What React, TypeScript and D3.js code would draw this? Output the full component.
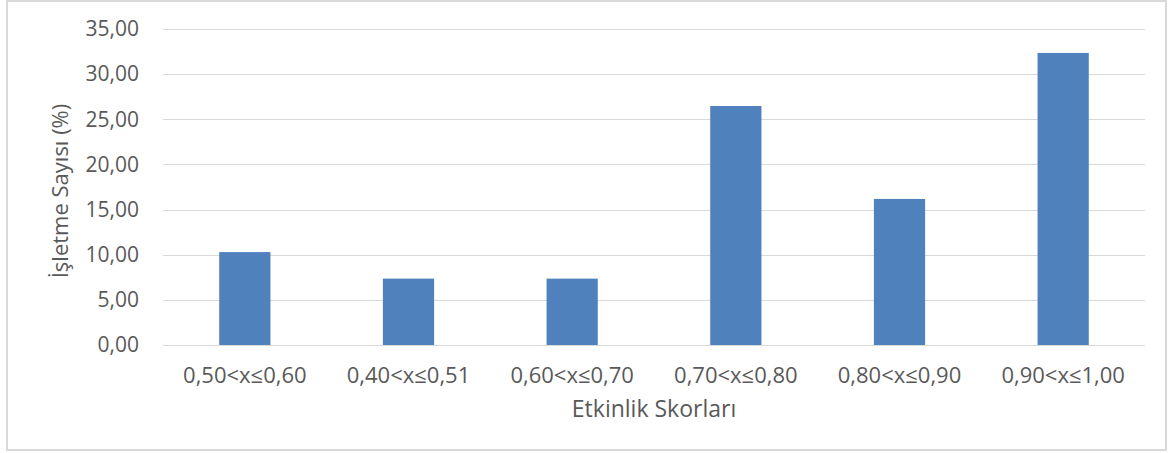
import * as d3 from "d3";
import React, { useEffect, useRef } from "react";

// Chart data
const categories: string[] = [
  "0,50<x≤0,60",
  "0,40<x≤0,51",
  "0,60<x≤0,70",
  "0,70<x≤0,80",
  "0,80<x≤0,90",
  "0,90<x≤1,00",
];
const values: number[] = [10.29, 7.35, 7.35, 26.47, 16.18, 32.35];
const yTicks: number[] = [0, 5, 10, 15, 20, 25, 30, 35];

const xTitle = "Etkinlik Skorları";
const yTitle = "İşletme Sayısı (%)";

const App: React.FC = () => {
  const ref = useRef<SVGSVGElement>(null);

  useEffect(() => {
    const width = 1175;
    const height = 453;
    const margin = { top: 29, right: 30, bottom: 108, left: 163 };
    const font = "'Open Sans', 'DejaVu Sans', sans-serif";
    const textColor = "#595959";

    // Clear any existing SVG elements
    d3.select(ref.current).selectAll("*").remove();

    const svg = d3.select(ref.current)
      .attr("width", width)
      .attr("height", height)
      .style("font-family", font);

    // Outer chart border
    svg.append("rect")
      .attr("x", 7)
      .attr("y", 1)
      .attr("width", 1159)
      .attr("height", 449)
      .attr("fill", "#ffffff")
      .attr("stroke", "#d9d9d9")
      .attr("stroke-width", 2);

    // Scales
    const x = d3.scaleBand()
      .domain(categories)
      .range([margin.left, width - margin.right])
      .paddingInner(0.687)
      .paddingOuter(0.3435);

    const y = d3.scaleLinear()
      .domain([0, 35])
      .range([height - margin.bottom, margin.top]);

    // Gridlines
    svg.append("g")
      .selectAll("line")
      .data(yTicks)
      .enter()
      .append("line")
      .attr("x1", margin.left)
      .attr("x2", width - margin.right)
      .attr("y1", (d) => Math.round(y(d)) + 0.5)
      .attr("y2", (d) => Math.round(y(d)) + 0.5)
      .attr("stroke", "#d9d9d9")
      .attr("stroke-width", 1);

    // Bars
    svg.append("g")
      .selectAll("rect")
      .data(values)
      .enter()
      .append("rect")
      .attr("x", (_d, i) => x(categories[i])!)
      .attr("y", (d) => y(d))
      .attr("width", x.bandwidth())
      .attr("height", (d) => y(0) - y(d))
      .attr("fill", "#4f81bd");

    // Y tick labels
    svg.append("g")
      .selectAll("text")
      .data(yTicks)
      .enter()
      .append("text")
      .attr("x", 139)
      .attr("y", (d) => y(d))
      .attr("dy", "0.35em")
      .attr("text-anchor", "end")
      .attr("fill", textColor)
      .style("font-size", "21px")
      .text((d) => d3.format(".2f")(d).replace(".", ","));

    // X tick labels
    svg.append("g")
      .selectAll("text")
      .data(categories)
      .enter()
      .append("text")
      .attr("x", (d) => x(d)! + x.bandwidth() / 2)
      .attr("y", 375)
      .attr("dy", "0.35em")
      .attr("text-anchor", "middle")
      .attr("fill", textColor)
      .style("font-size", "22px")
      .text((d) => d);

    // X-axis title
    svg.append("text")
      .attr("x", (margin.left + width - margin.right) / 2)
      .attr("y", 409)
      .attr("dy", "0.35em")
      .attr("text-anchor", "middle")
      .attr("fill", textColor)
      .style("font-size", "23px")
      .text(xTitle);

    // Y-axis title
    svg.append("text")
      .attr("transform", `translate(60,${(margin.top + height - margin.bottom) / 2 + 4}) rotate(-90)`)
      .attr("dy", "0.35em")
      .attr("text-anchor", "middle")
      .attr("fill", textColor)
      .style("font-size", "22px")
      .text(yTitle);
  }, []);

  return (
    <div style={{ position: "absolute", top: 0, left: 0 }}>
      <svg ref={ref}></svg>
    </div>
  );
};

export default App;
